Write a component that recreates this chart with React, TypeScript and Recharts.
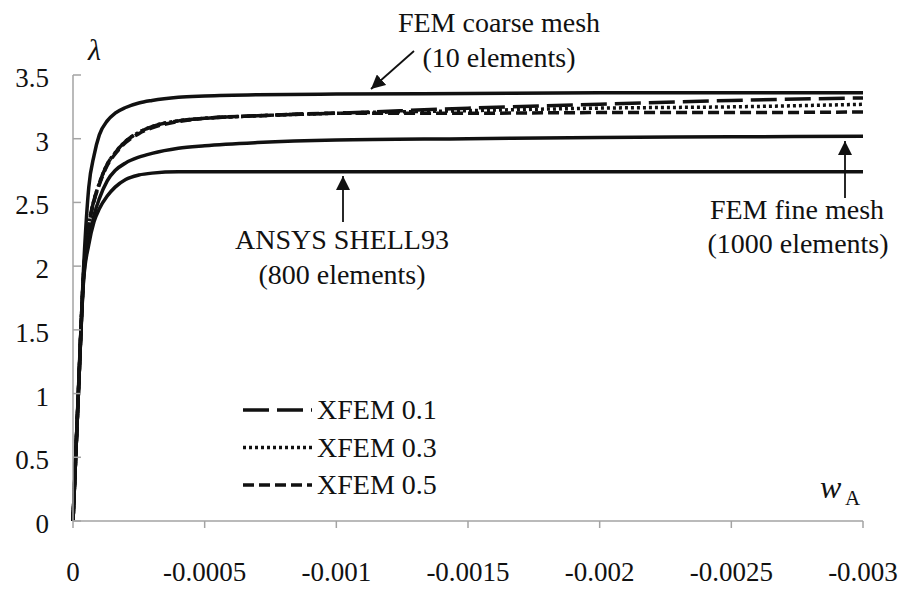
import { LineChart, Line, XAxis, YAxis, Legend } from "recharts"

// displacement w_A and load factor lambda for each model
const wA = [0, -0.00002, -0.00004, -0.00006, -0.00008, -0.0001, -0.00013, -0.00016, -0.0002, -0.00025, -0.0003, -0.0004, -0.0005, -0.0007, -0.001, -0.0015, -0.002, -0.0025, -0.003]
const femCoarse = [0, 1.0, 1.98, 2.62, 2.87, 3.03, 3.14, 3.2, 3.245, 3.28, 3.3, 3.325, 3.335, 3.345, 3.35, 3.355, 3.36, 3.36, 3.36]
const xfem01 = [0, 0.98, 1.93, 2.32, 2.52, 2.65, 2.8, 2.89, 2.98, 3.05, 3.095, 3.14, 3.16, 3.18, 3.2, 3.24, 3.27, 3.3, 3.32]
const xfem03 = [0, 0.98, 1.93, 2.32, 2.52, 2.65, 2.8, 2.89, 2.98, 3.05, 3.095, 3.14, 3.16, 3.18, 3.2, 3.22, 3.24, 3.25, 3.27]
const xfem05 = [0, 0.98, 1.93, 2.31, 2.51, 2.64, 2.79, 2.88, 2.97, 3.04, 3.085, 3.135, 3.16, 3.18, 3.2, 3.2, 3.205, 3.205, 3.21]
const femFine = [0, 0.98, 1.9, 2.2, 2.4, 2.53, 2.67, 2.75, 2.81, 2.855, 2.885, 2.925, 2.945, 2.97, 2.99, 3.0, 3.01, 3.015, 3.02]
const ansys = [0, 0.98, 1.88, 2.17, 2.35, 2.45, 2.55, 2.62, 2.68, 2.715, 2.73, 2.74, 2.74, 2.74, 2.74, 2.74, 2.74, 2.74, 2.74]

const xTicks = [0, -0.0005, -0.001, -0.0015, -0.002, -0.0025, -0.003]
const yTicks = [0, 0.5, 1, 1.5, 2, 2.5, 3, 3.5]

const data = wA.map((w, i) => ({
  w,
  coarse: femCoarse[i],
  x01: xfem01[i],
  x03: xfem03[i],
  x05: xfem05[i],
  fine: femFine[i],
  ansys: ansys[i],
}))

const FONT = "'Liberation Serif', 'Times New Roman', serif"
const AXIS = "#a3a3a3"
const INK = "#111"

function YTick({ x, y, payload }: any) {
  return (
    <text x={x} y={y + 12} textAnchor="end" fontFamily={FONT} fontSize={27} fill={INK}>
      {payload.value}
    </text>
  )
}

function XTick({ x, y, payload }: any) {
  return (
    <text x={x} y={y + 53} textAnchor="middle" fontFamily={FONT} fontSize={27} fill={INK}>
      {payload.value}
    </text>
  )
}

function LegendBox({ payload }: any) {
  const items = (payload || []).filter((p: any) => p.type !== "none")
  return (
    <svg width={220} height={110}>
      {items.map((p: any, i: number) => (
        <g key={p.value}>
          <line
            x1={0}
            x2={69}
            y1={15 + i * 37.5}
            y2={15 + i * 37.5}
            stroke={INK}
            strokeWidth={3.5}
            strokeDasharray={p.payload.strokeDasharray}
          />
          <text x={74} y={24 + i * 37.5} fontFamily={FONT} fontSize={28} fill={INK}>
            {p.value}
          </text>
        </g>
      ))}
    </svg>
  )
}

export default function App() {
  return (
    <div style={{ position: "absolute", left: 0, top: 0, width: 903, height: 595, background: "#fff" }}>
      <LineChart width={903} height={595} data={data} margin={{ top: 75, right: 40, left: 0, bottom: 0 }}>
        <XAxis
          dataKey="w"
          type="number"
          domain={[-0.003, 0]}
          reversed
          ticks={xTicks}
          height={74}
          tickSize={7}
          tickMargin={0}
          stroke={AXIS}
          strokeWidth={1.5}
          tick={<XTick />}
        />
        <YAxis
          type="number"
          domain={[0, 3.5]}
          ticks={yTicks}
          width={73}
          tickSize={-8}
          tickMargin={32}
          stroke={AXIS}
          strokeWidth={1.5}
          tick={<YTick />}
        />
        <Line dataKey="coarse" type="monotone" stroke={INK} strokeWidth={3.5} dot={false} legendType="none" isAnimationActive={false} />
        <Line dataKey="fine" type="monotone" stroke={INK} strokeWidth={3.5} dot={false} legendType="none" isAnimationActive={false} />
        <Line dataKey="ansys" type="monotone" stroke={INK} strokeWidth={3.5} dot={false} legendType="none" isAnimationActive={false} />
        <Line dataKey="x01" name="XFEM 0.1" type="monotone" stroke={INK} strokeWidth={3.5} strokeDasharray="26 8" dot={false} isAnimationActive={false} />
        <Line dataKey="x03" name="XFEM 0.3" type="monotone" stroke={INK} strokeWidth={3.5} strokeDasharray="3 3" dot={false} isAnimationActive={false} />
        <Line dataKey="x05" name="XFEM 0.5" type="monotone" stroke={INK} strokeWidth={3.5} strokeDasharray="11 5" dot={false} isAnimationActive={false} />
        <Legend
          layout="horizontal"
          verticalAlign="middle"
          align="center"
          content={<LegendBox />}
          wrapperStyle={{ position: "absolute", left: 243, top: 395, width: 220, height: 110, bottom: "auto", right: "auto" }}
        />
      </LineChart>
      <svg width={903} height={595} style={{ position: "absolute", left: 0, top: 0, pointerEvents: "none" }}>
        <defs>
          <marker id="head" viewBox="0 0 10 10" refX={10} refY={5} markerWidth={14} markerHeight={14} markerUnits="userSpaceOnUse" orient="auto">
            <path d="M0,0 L10,5 L0,10 z" fill={INK} />
          </marker>
        </defs>
        <g fontFamily={FONT} fontSize={28} fill={INK} textAnchor="middle">
          <text x={499} y={32}>FEM coarse mesh</text>
          <text x={499} y={67}>(10 elements)</text>
          <text x={342} y={249}>ANSYS SHELL93</text>
          <text x={342} y={284}>(800 elements)</text>
          <text x={797} y={219}>FEM fine mesh</text>
          <text x={798} y={253}>(1000 elements)</text>
        </g>
        <line x1={414} y1={51} x2={371} y2={89} stroke={INK} strokeWidth={1.8} markerEnd="url(#head)" />
        <line x1={343} y1={222} x2={343} y2={176} stroke={INK} strokeWidth={1.8} markerEnd="url(#head)" />
        <line x1={845} y1={198} x2={845} y2={141} stroke={INK} strokeWidth={1.8} markerEnd="url(#head)" />
        <text x={88} y={60} fontFamily={FONT} fontSize={30} fontStyle="italic" fill={INK}>λ</text>
        <text x={820} y={498} fontFamily={FONT} fontSize={32} fontStyle="italic" fill={INK}>w</text>
        <text x={845} y={505} fontFamily={FONT} fontSize={21} fill={INK}>A</text>
      </svg>
    </div>
  )
}
